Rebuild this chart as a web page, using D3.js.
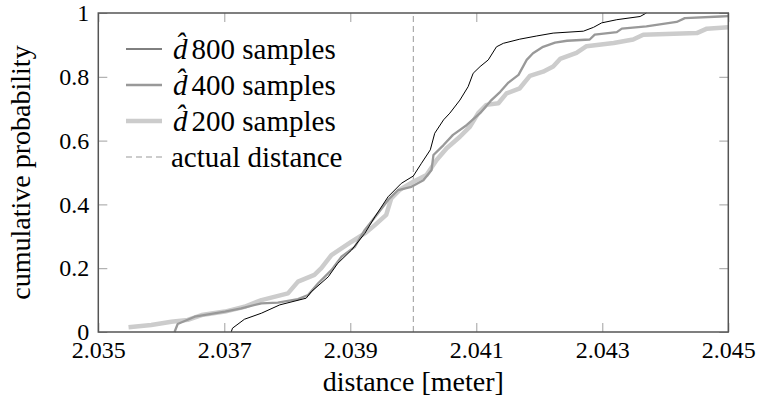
<!DOCTYPE html>
<html lang="en">
<head>
  <meta charset="UTF-8">
  <script src="https://cdn.jsdelivr.net/npm/d3@7"></script>
  <title>Distance CDF</title>
  <style>
    body { margin: 0; background: #fff; }
  </style>
</head>
<body>
  <svg width="760" height="402" id="chart" font-family="Liberation Serif"></svg>
  <script>
    const cdf800 = [
      [2.03711, 0.0], [2.03713, 0.012], [2.03732, 0.04], [2.03759, 0.059], [2.03788, 0.085],
      [2.0383, 0.106], [2.03838, 0.126], [2.03865, 0.173], [2.0388, 0.215], [2.03902, 0.257],
      [2.03923, 0.309], [2.03939, 0.361], [2.0396, 0.424], [2.03981, 0.466], [2.04, 0.489],
      [2.04013, 0.529], [2.04027, 0.571], [2.04034, 0.623], [2.04048, 0.665], [2.04058, 0.686],
      [2.04074, 0.727], [2.04087, 0.769], [2.04095, 0.811], [2.04106, 0.832], [2.04119, 0.853],
      [2.04132, 0.894], [2.04143, 0.905], [2.04169, 0.918], [2.04196, 0.928], [2.04222, 0.937],
      [2.0427, 0.943], [2.04286, 0.955], [2.04299, 0.969], [2.04323, 0.979], [2.0436, 0.989],
      [2.0437, 1.0]
    ];
    const cdf400 = [
      [2.03621, 0.0], [2.03626, 0.025], [2.03653, 0.048], [2.03701, 0.064], [2.03727, 0.074],
      [2.03759, 0.09], [2.03785, 0.092], [2.03817, 0.103], [2.03833, 0.116], [2.03849, 0.153],
      [2.0387, 0.194], [2.03886, 0.236], [2.03907, 0.267], [2.03923, 0.32], [2.03944, 0.372],
      [2.0396, 0.414], [2.03976, 0.445], [2.03997, 0.455], [2.04016, 0.476], [2.04029, 0.508],
      [2.04032, 0.555], [2.04048, 0.586], [2.04063, 0.618], [2.04085, 0.649], [2.04106, 0.686],
      [2.04124, 0.727], [2.04138, 0.753], [2.04151, 0.782], [2.04167, 0.806], [2.0418, 0.853],
      [2.0419, 0.874], [2.04206, 0.894], [2.04225, 0.907], [2.04244, 0.913], [2.0428, 0.917],
      [2.04288, 0.932], [2.04323, 0.94], [2.04331, 0.951], [2.0437, 0.958], [2.04418, 0.972],
      [2.04431, 0.984], [2.04487, 0.989], [2.045, 0.99]
    ];
    const cdf200 = [
      [2.03548, 0.015], [2.03584, 0.022], [2.03616, 0.032], [2.03642, 0.038], [2.03664, 0.053],
      [2.03701, 0.064], [2.03732, 0.079], [2.03759, 0.1], [2.03801, 0.121], [2.03817, 0.158],
      [2.03843, 0.179], [2.03854, 0.2], [2.0387, 0.241], [2.03902, 0.283], [2.03923, 0.309],
      [2.03939, 0.335], [2.03957, 0.367], [2.03965, 0.419], [2.03978, 0.445], [2.04, 0.471],
      [2.04021, 0.492], [2.04037, 0.539], [2.04053, 0.576], [2.04074, 0.612], [2.0409, 0.644],
      [2.04103, 0.686], [2.04116, 0.712], [2.04135, 0.717], [2.04148, 0.748], [2.04169, 0.764],
      [2.04185, 0.803], [2.04206, 0.816], [2.04222, 0.832], [2.04233, 0.856], [2.04259, 0.875],
      [2.04275, 0.896], [2.04318, 0.906], [2.04349, 0.917], [2.04365, 0.932], [2.0445, 0.937],
      [2.04466, 0.951], [2.045, 0.955]
    ];
    const actualDistance = 2.040;
    const xTicks = [2.035, 2.037, 2.039, 2.041, 2.043, 2.045];
    const yTicks = [0, 0.2, 0.4, 0.6, 0.8, 1];
    const legendLabels = ["800 samples", "400 samples", "200 samples", "actual distance"];

    let svg = d3.select("#chart");
    let plotLeft = 98.3, plotRight = 728.3, plotTop = 13, plotBottom = 332;

    let scaleX = d3.scaleLinear().domain([2.035, 2.045]).range([plotLeft, plotRight]);
    let scaleY = d3.scaleLinear().domain([0, 1]).range([plotBottom, plotTop]);

    // ticks, inward, on all four sides
    let tickStyle = g => {
      g.attr("font-family", null).attr("font-size", 24);
      g.select(".domain").remove();
      g.selectAll(".tick line").attr("stroke", "#a0a0a0").attr("stroke-width", 1);
      g.selectAll(".tick text").attr("fill", "#000").attr("font-family", "Liberation Serif");
    };
    svg.append("g").attr("transform", `translate(0,${plotBottom})`)
      .call(d3.axisBottom(scaleX).tickValues(xTicks).tickFormat(d3.format(".3f")).tickSizeInner(-9).tickSizeOuter(0).tickPadding(9))
      .call(tickStyle);
    svg.append("g").attr("transform", `translate(0,${plotTop})`)
      .call(d3.axisTop(scaleX).tickValues(xTicks).tickFormat("").tickSizeInner(-9).tickSizeOuter(0))
      .call(tickStyle);
    svg.append("g").attr("transform", `translate(${plotLeft},0)`)
      .call(d3.axisLeft(scaleY).tickValues(yTicks).tickFormat(d3.format("")).tickSizeInner(-9).tickSizeOuter(0).tickPadding(9))
      .call(tickStyle);
    svg.append("g").attr("transform", `translate(${plotRight},0)`)
      .call(d3.axisRight(scaleY).tickValues(yTicks).tickFormat("").tickSizeInner(-9).tickSizeOuter(0))
      .call(tickStyle);

    // actual distance marker
    svg.append("line")
      .attr("x1", scaleX(actualDistance)).attr("x2", scaleX(actualDistance))
      .attr("y1", scaleY(0)).attr("y2", scaleY(1))
      .attr("stroke", "#999").attr("stroke-width", 1).attr("stroke-dasharray", "6,4");

    let line = d3.line().x(d => scaleX(d[0])).y(d => scaleY(d[1]));
    let series = [
      { data: cdf200, color: "#cccccc", width: 4.5 },
      { data: cdf400, color: "#999999", width: 2.3 },
      { data: cdf800, color: "#000000", width: 1 }
    ];
    svg.selectAll(".cdf").data(series).enter().append("path")
      .attr("class", "cdf")
      .attr("d", d => line(d.data))
      .attr("fill", "none")
      .attr("stroke", d => d.color)
      .attr("stroke-width", d => d.width)
      .attr("stroke-linejoin", "round");

    // frame
    svg.append("rect")
      .attr("x", plotLeft).attr("y", plotTop).attr("width", plotRight - plotLeft).attr("height", plotBottom - plotTop)
      .attr("fill", "none").attr("stroke", "#555").attr("stroke-width", 1.5);

    // axis titles
    svg.append("text").attr("x", (plotLeft + plotRight) / 2).attr("y", 391)
      .attr("font-family", "Liberation Serif").attr("font-size", 28)
      .attr("text-anchor", "middle").text("distance [meter]");
    svg.append("text").attr("transform", `translate(30,${(plotTop + plotBottom) / 2}) rotate(-90)`)
      .attr("font-family", "Liberation Serif").attr("font-size", 28)
      .attr("text-anchor", "middle").text("cumulative probability");

    // legend
    let legendStyle = [
      { color: "#000", width: 1, dash: null },
      { color: "#999", width: 2.3, dash: null },
      { color: "#ccc", width: 4.5, dash: null },
      { color: "#999", width: 1, dash: "6,4" }
    ];
    let legend = svg.append("g");
    legendLabels.forEach((label, i) => {
      let y = 49 + i * 36;
      let s = legendStyle[i];
      legend.append("line")
        .attr("x1", 126).attr("x2", 162).attr("y1", y).attr("y2", y)
        .attr("stroke", s.color).attr("stroke-width", s.width)
        .attr("stroke-dasharray", s.dash);
      let t = legend.append("text").attr("x", i < 3 ? 173 : 171).attr("y", y + 10)
        .attr("font-family", "Liberation Serif").attr("font-size", 29);
      if (i < 3) {
        t.append("tspan").attr("font-style", "italic").text("d\u0302");
        t.append("tspan").attr("dx", 4).text(label);
      } else {
        t.text(label);
      }
    });
  </script>
</body>
</html>
